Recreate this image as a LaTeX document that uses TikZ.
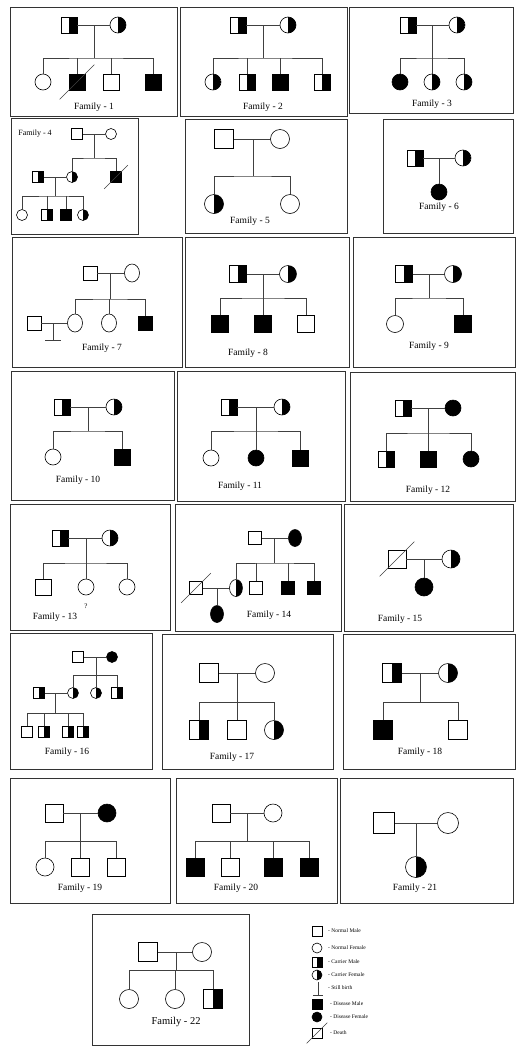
\documentclass[tikz,border=0pt]{standalone}
\usepackage{fontspec}
\setmainfont{Liberation Serif}
\usetikzlibrary{calc,shapes.geometric}

\tikzset{
  male/.style={draw, rectangle, inner sep=0pt, line width=0.6pt},
  female/.style={draw, circle, inner sep=0pt, line width=0.6pt},
  oval/.style={draw, ellipse, inner sep=0pt, line width=0.6pt},
  dis/.style={fill=black},
  halfblack/.style={path picture={\fill[black] (path picture bounding box.north) rectangle (path picture bounding box.south east);}},
  carm/.style={male, halfblack},
  carf/.style={female, halfblack},
  link/.style={draw=black!75, line width=0.6pt},
  fambox/.style={draw=black!80, line width=1pt},
  famlabel/.style={font=\fontsize{9.5}{11}\selectfont, minimum size=0pt, inner sep=0pt},
  keytext/.style={anchor=west, font=\fontsize{5.5}{6}\selectfont, minimum size=0pt, inner sep=0pt},
}
\newcommand{\deadmark}[2]{\draw[link] ($(#1.south west)+(-#2,#2)$) -- ($(#1.north east)+(#2,-#2)$);}

\begin{document}
\begin{tikzpicture}[x=1pt,y=-1pt]
\useasboundingbox (0,0) rectangle (523,1058);

% frames
\draw[fambox] (10,7) rectangle (177,116);
\draw[fambox] (180,7) rectangle (347,116);
\draw[fambox] (349,7) rectangle (513,113);
\draw[fambox] (11,118) rectangle (138,234);
\draw[fambox] (185,119) rectangle (347,233);
\draw[fambox] (383,119) rectangle (513,233);
\draw[fambox] (12,237) rectangle (182,367);
\draw[fambox] (185,237) rectangle (349,367);
\draw[fambox] (353,237) rectangle (515,367);
\draw[fambox] (11,371) rectangle (174,500);
\draw[fambox] (177,371) rectangle (345,501);
\draw[fambox] (350,372) rectangle (515,501);
\draw[fambox] (10,504) rectangle (170,630);
\draw[fambox] (175,504) rectangle (341,631);
\draw[fambox] (344,504) rectangle (513,631);
\draw[fambox] (10,633) rectangle (152,769);
\draw[fambox] (162,634) rectangle (333,769);
\draw[fambox] (343,634) rectangle (515,769);
\draw[fambox] (10,778) rectangle (170,903);
\draw[fambox] (176,778) rectangle (337,903);
\draw[fambox] (340,778) rectangle (513,903);
\draw[fambox] (92,914) rectangle (249,1045);

% family 1
\begin{scope}[every node/.append style={minimum size=16pt}]
  \node[carm] (p1) at (69,25) {};
  \node[carf] (q1) at (118,25) {};
  \coordinate (j1) at (94,25);
  \coordinate (s1) at (94,58);
  \node[female] (c1a) at (43,82) {};
  \node[male,dis] (c1b) at (77,82) {};
  \node[male] (c1c) at (111,82) {};
  \node[male,dis] (c1d) at (153,82) {};
  \draw[link] (p1) -- (q1);
  \draw[link] (j1) -- (s1);
  \draw[link] (c1a) |- (s1) -| (c1d);
  \draw[link] (c1b) -- (c1b |- s1);
  \draw[link] (c1c) -- (c1c |- s1);
  \deadmark{c1b}{9}
  \node[famlabel] (l1) at (94,107) {Family - 1};
\end{scope}

% family 2
\begin{scope}[every node/.append style={minimum size=16pt}]
  \node[carm] (p2) at (238,25) {};
  \node[carf] (q2) at (288,25) {};
  \coordinate (j2) at (263,25);
  \coordinate (s2) at (263,58);
  \node[carf] (c2a) at (213,82) {};
  \node[carm] (c2b) at (247,82) {};
  \node[male,dis] (c2c) at (280,82) {};
  \node[carm] (c2d) at (322,82) {};
  \draw[link] (p2) -- (q2);
  \draw[link] (j2) -- (s2);
  \draw[link] (c2a) |- (s2) -| (c2d);
  \draw[link] (c2b) -- (c2b |- s2);
  \draw[link] (c2c) -- (c2c |- s2);
  \node[famlabel] (l2) at (263,107) {Family - 2};
\end{scope}

% family 3
\begin{scope}[every node/.append style={minimum size=16pt}]
  \node[carm] (p3) at (408,25) {};
  \node[carf] (q3) at (457,25) {};
  \coordinate (j3) at (432,25);
  \coordinate (s3) at (432,58);
  \node[female,dis] (c3a) at (400,82) {};
  \node[carf] (c3b) at (432,82) {};
  \node[carf] (c3c) at (464,82) {};
  \draw[link] (p3) -- (q3);
  \draw[link] (j3) -- (s3);
  \draw[link] (c3a) |- (s3) -| (c3c);
  \draw[link] (c3b) -- (c3b |- s3);
  \node[famlabel] (l3) at (432,104) {Family - 3};
\end{scope}

% family 4
\begin{scope}[every node/.append style={minimum size=11pt}]
  \node[famlabel, font=\fontsize{8}{9}\selectfont] (l4) at (35,134) {Family - 4};
  \node[male] (p4) at (77,134) {};
  \node[female] (q4) at (111,134) {};
  \coordinate (j4) at (94,134);
  \coordinate (s4) at (94,158);
  \node[carf] (c4a) at (72,177) {};
  \node[male,dis] (c4b) at (116,177) {};
  \node[carm] (r4) at (38,177) {};
  \coordinate (j4b) at (55,177);
  \coordinate (s4b) at (55,196);
  \node[female] (g4a) at (22,215) {};
  \node[carm] (g4b) at (47,215) {};
  \node[male,dis] (g4c) at (66,215) {};
  \node[carf] (g4d) at (83,215) {};
  \draw[link] (p4) -- (q4);
  \draw[link] (j4) -- (s4);
  \draw[link] (c4a) |- (s4) -| (c4b);
  \deadmark{c4b}{6}
  \draw[link] (r4) -- (c4a);
  \draw[link] (j4b) -- (s4b);
  \draw[link] (g4a) |- (s4b) -| (g4d);
  \draw[link] (g4b) -- (g4b |- s4b);
  \draw[link] (g4c) -- (g4c |- s4b);
\end{scope}

% family 5
\begin{scope}[every node/.append style={minimum size=19pt}]
  \node[male] (p5) at (224,139) {};
  \node[female] (q5) at (280,139) {};
  \coordinate (j5) at (253,139);
  \coordinate (s5) at (253,176);
  \node[carf] (c5a) at (214,204) {};
  \node[female] (c5b) at (290,204) {};
  \draw[link] (p5) -- (q5);
  \draw[link] (j5) -- (s5);
  \draw[link] (c5a) |- (s5) -| (c5b);
  \node[famlabel] (l5) at (250,221) {Family - 5};
\end{scope}

% family 6
\begin{scope}[every node/.append style={minimum size=16pt}]
  \node[carm] (p6) at (415,158) {};
  \node[carf] (q6) at (463,158) {};
  \coordinate (j6) at (439,158);
  \node[female,dis] (c6a) at (439,192) {};
  \draw[link] (p6) -- (q6);
  \draw[link] (j6) -- (c6a);
  \node[famlabel] (l6) at (439,207) {Family - 6};
\end{scope}

% family 7
\begin{scope}[every node/.append style={minimum size=14pt}]
  \node[male] (p7) at (90,273) {};
  \node[oval, minimum width=15pt, minimum height=18pt] (q7) at (132,273) {};
  \coordinate (j7) at (110,273);
  \coordinate (s7) at (110,299);
  \node[oval, minimum width=15pt, minimum height=18pt] (c7a) at (75,323) {};
  \node[oval, minimum width=15pt, minimum height=18pt] (c7b) at (109,323) {};
  \node[male,dis] (c7c) at (145,323) {};
  \node[male] (r7) at (34,323) {};
  \coordinate (j7b) at (53,323);
  \coordinate (sb7) at (53,340);
  \draw[link] (p7) -- (q7);
  \draw[link] (j7) -- (s7);
  \draw[link] (c7a) |- (s7) -| (c7c);
  \draw[link] (c7b) -- (c7b |- s7);
  \draw[link] (r7) -- (c7a);
  \draw[link] (j7b) -- (sb7);
  \draw[link] ($(sb7)+(-8,0)$) -- ($(sb7)+(8,0)$);
  \node[famlabel] (l7) at (102,348) {Family - 7};
\end{scope}

% family 8
\begin{scope}[every node/.append style={minimum size=17pt}]
  \node[carm] (p8) at (238,274) {};
  \node[carf] (q8) at (288,274) {};
  \coordinate (j8) at (263,274);
  \coordinate (s8) at (263,298);
  \node[male,dis] (c8a) at (220,324) {};
  \node[male,dis] (c8b) at (263,324) {};
  \node[male] (c8c) at (306,324) {};
  \draw[link] (p8) -- (q8);
  \draw[link] (j8) -- (s8);
  \draw[link] (c8a) |- (s8) -| (c8c);
  \draw[link] (c8b) -- (c8b |- s8);
  \node[famlabel] (l8) at (248,353) {Family - 8};
\end{scope}

% family 9
\begin{scope}[every node/.append style={minimum size=17pt}]
  \node[carm] (p9) at (404,274) {};
  \node[carf] (q9) at (453,274) {};
  \coordinate (j9) at (429,274);
  \coordinate (s9) at (429,298);
  \node[female] (c9a) at (395,324) {};
  \node[male,dis] (c9b) at (463,324) {};
  \draw[link] (p9) -- (q9);
  \draw[link] (j9) -- (s9);
  \draw[link] (c9a) |- (s9) -| (c9b);
  \node[famlabel] (l9) at (429,346) {Family - 9};
\end{scope}

% family 10
\begin{scope}[every node/.append style={minimum size=16pt}]
  \node[carm] (p10) at (62,407) {};
  \node[carf] (q10) at (114,407) {};
  \coordinate (j10) at (88,407);
  \coordinate (s10) at (88,431);
  \node[female] (c10a) at (53,457) {};
  \node[male,dis] (c10b) at (122,457) {};
  \draw[link] (p10) -- (q10);
  \draw[link] (j10) -- (s10);
  \draw[link] (c10a) |- (s10) -| (c10b);
  \node[famlabel] (l10) at (78,480) {Family - 10};
\end{scope}

% family 11
\begin{scope}[every node/.append style={minimum size=16pt}]
  \node[carm] (p11) at (229,407) {};
  \node[carf] (q11) at (282,407) {};
  \coordinate (j11) at (256,407);
  \coordinate (s11) at (256,431);
  \node[female] (c11a) at (211,458) {};
  \node[female,dis] (c11b) at (256,458) {};
  \node[male,dis] (c11c) at (300,458) {};
  \draw[link] (p11) -- (q11);
  \draw[link] (j11) -- (s11);
  \draw[link] (c11a) |- (s11) -| (c11c);
  \draw[link] (c11b) -- (c11b |- s11);
  \node[famlabel] (l11) at (240,486) {Family - 11};
\end{scope}

% family 12
\begin{scope}[every node/.append style={minimum size=16pt}]
  \node[carm] (p12) at (403,408) {};
  \node[female,dis] (q12) at (453,408) {};
  \coordinate (j12) at (428,408);
  \coordinate (s12) at (428,433);
  \node[carm] (c12a) at (386,459) {};
  \node[male,dis] (c12b) at (428,459) {};
  \node[female,dis] (c12c) at (471,459) {};
  \draw[link] (p12) -- (q12);
  \draw[link] (j12) -- (s12);
  \draw[link] (c12a) |- (s12) -| (c12c);
  \draw[link] (c12b) -- (c12b |- s12);
  \node[famlabel] (l12) at (428,490) {Family - 12};
\end{scope}

% family 13
\begin{scope}[every node/.append style={minimum size=16pt}]
  \node[carm] (p13) at (60,538) {};
  \node[carf] (q13) at (110,538) {};
  \coordinate (j13) at (86,538);
  \coordinate (s13) at (86,563);
  \node[male] (c13a) at (43,587) {};
  \node[female] (c13b) at (86,587) {};
  \node[female] (c13c) at (127,587) {};
  \draw[link] (p13) -- (q13);
  \draw[link] (j13) -- (s13);
  \draw[link] (c13a) |- (s13) -| (c13c);
  \draw[link] (c13b) -- (c13b |- s13);
  \node[famlabel, font=\fontsize{7}{8}\selectfont] (x13) at (86,606) {?};
  \node[famlabel] (l13) at (55,617) {Family - 13};
\end{scope}

% family 14
\begin{scope}[every node/.append style={minimum size=13pt}]
  \node[male] (p14) at (255,538) {};
  \node[oval, dis, minimum width=13pt, minimum height=17pt] (q14) at (295,538) {};
  \coordinate (j14) at (274,538);
  \coordinate (s14) at (274,563);
  \node[oval, halfblack, minimum width=13pt, minimum height=17pt] (c14a) at (236,588) {};
  \node[male] (c14b) at (256,588) {};
  \node[male,dis] (c14c) at (288,588) {};
  \node[male,dis] (c14d) at (314,588) {};
  \node[male] (r14) at (196,588) {};
  \coordinate (j14b) at (217,588);
  \node[oval, dis, minimum width=13pt, minimum height=17pt] (c14e) at (217,614) {};
  \draw[link] (p14) -- (q14);
  \draw[link] (j14) -- (s14);
  \draw[link] (c14a) |- (s14) -| (c14d);
  \draw[link] (c14b) -- (c14b |- s14);
  \draw[link] (c14c) -- (c14c |- s14);
  \draw[link] (r14) -- (c14a);
  \draw[link] (j14b) -- (c14e);
  \deadmark{r14}{8}
  \node[famlabel] (l14) at (269,615) {Family - 14};
\end{scope}

% family 15
\begin{scope}[every node/.append style={minimum size=18pt}]
  \node[male] (p15) at (397,559) {};
  \node[carf] (q15) at (451,559) {};
  \coordinate (j15) at (424,559);
  \node[female,dis] (c15a) at (424,587) {};
  \draw[link] (p15) -- (q15);
  \draw[link] (j15) -- (c15a);
  \deadmark{p15}{8}
  \node[famlabel] (l15) at (400,619) {Family - 15};
\end{scope}

% family 16
\begin{scope}[every node/.append style={minimum size=11pt}]
  \node[male] (p16) at (78,657) {};
  \node[female,dis] (q16) at (112,657) {};
  \coordinate (j16) at (96,657);
  \coordinate (s16) at (96,675);
  \node[carf] (c16a) at (73,693) {};
  \node[carf] (c16b) at (96,693) {};
  \node[carm] (c16c) at (117,693) {};
  \node[carm] (r16) at (39,693) {};
  \coordinate (j16b) at (55,693);
  \coordinate (s16b) at (55,713);
  \node[male] (g16a) at (27,732) {};
  \node[carm] (g16b) at (44,732) {};
  \node[carm] (g16c) at (68,732) {};
  \node[carm] (g16d) at (83,732) {};
  \draw[link] (p16) -- (q16);
  \draw[link] (j16) -- (s16);
  \draw[link] (c16a) |- (s16) -| (c16c);
  \draw[link] (c16b) -- (c16b |- s16);
  \draw[link] (r16) -- (c16a);
  \draw[link] (j16b) -- (s16b);
  \draw[link] (g16a) |- (s16b) -| (g16d);
  \draw[link] (g16b) -- (g16b |- s16b);
  \draw[link] (g16c) -- (g16c |- s16b);
  \node[famlabel] (l16) at (67,752) {Family - 16};
\end{scope}

% family 17
\begin{scope}[every node/.append style={minimum size=19pt}]
  \node[male] (p17) at (209,673) {};
  \node[female] (q17) at (265,673) {};
  \coordinate (j17) at (237,673);
  \coordinate (s17) at (237,702);
  \node[carm] (c17a) at (199,730) {};
  \node[male] (c17b) at (237,730) {};
  \node[carf] (c17c) at (274,730) {};
  \draw[link] (p17) -- (q17);
  \draw[link] (j17) -- (s17);
  \draw[link] (c17a) |- (s17) -| (c17c);
  \draw[link] (c17b) -- (c17b |- s17);
  \node[famlabel] (l17) at (232,757) {Family - 17};
\end{scope}

% family 18
\begin{scope}[every node/.append style={minimum size=19pt}]
  \node[carm] (p18) at (392,673) {};
  \node[carf] (q18) at (448,673) {};
  \coordinate (j18) at (420,673);
  \coordinate (s18) at (420,702);
  \node[male,dis] (c18a) at (383,730) {};
  \node[male] (c18b) at (458,730) {};
  \draw[link] (p18) -- (q18);
  \draw[link] (j18) -- (s18);
  \draw[link] (c18a) |- (s18) -| (c18b);
  \node[famlabel] (l18) at (420,752) {Family - 18};
\end{scope}

% family 19
\begin{scope}[every node/.append style={minimum size=18pt}]
  \node[male] (p19) at (54,813) {};
  \node[female,dis] (q19) at (107,813) {};
  \coordinate (j19) at (80,813);
  \coordinate (s19) at (80,841);
  \node[female] (c19a) at (45,867) {};
  \node[male] (c19b) at (80,867) {};
  \node[male] (c19c) at (116,867) {};
  \draw[link] (p19) -- (q19);
  \draw[link] (j19) -- (s19);
  \draw[link] (c19a) |- (s19) -| (c19c);
  \draw[link] (c19b) -- (c19b |- s19);
  \node[famlabel] (l19) at (80,888) {Family - 19};
\end{scope}

% family 20
\begin{scope}[every node/.append style={minimum size=18pt}]
  \node[male] (p20) at (221,813) {};
  \node[female] (q20) at (273,813) {};
  \coordinate (j20) at (247,813);
  \coordinate (s20) at (247,841);
  \node[male,dis] (c20a) at (195,867) {};
  \node[male] (c20b) at (230,867) {};
  \node[male,dis] (c20c) at (273,867) {};
  \node[male,dis] (c20d) at (309,867) {};
  \draw[link] (p20) -- (q20);
  \draw[link] (j20) -- (s20);
  \draw[link] (c20a) |- (s20) -| (c20d);
  \draw[link] (c20b) -- (c20b |- s20);
  \draw[link] (c20c) -- (c20c |- s20);
  \node[famlabel] (l20) at (236,888) {Family - 20};
\end{scope}

% family 21
\begin{scope}[every node/.append style={minimum size=21pt}]
  \node[male] (p21) at (384,823) {};
  \node[female] (q21) at (448,823) {};
  \coordinate (j21) at (416,823);
  \node[carf] (c21a) at (416,867) {};
  \draw[link] (p21) -- (q21);
  \draw[link] (j21) -- (c21a);
  \node[famlabel] (l21) at (415,888) {Family - 21};
\end{scope}

% family 22
\begin{scope}[every node/.append style={minimum size=19pt}]
  \node[male] (p22) at (148,952) {};
  \node[female] (q22) at (202,952) {};
  \coordinate (j22) at (176,952);
  \coordinate (s22) at (176,970);
  \node[female] (c22a) at (129,999) {};
  \node[female] (c22b) at (175,999) {};
  \node[carm] (c22c) at (213,999) {};
  \draw[link] (p22) -- (q22);
  \draw[link] (j22) -- (s22);
  \draw[link] (c22a) |- (s22) -| (c22c);
  \draw[link] (c22b) -- (c22b |- s22);
  \node[famlabel, font=\fontsize{10.5}{12}\selectfont] (l22) at (176,1022) {Family - 22};
\end{scope}

% key
\begin{scope}[every node/.append style={minimum size=10pt}]
  \node[male] (k1) at (317,931) {};
  \node[keytext] (t1) at (328,931) {- Normal Male};
  \node[female] (k2) at (317,948) {};
  \node[keytext] (t2) at (328,948) {- Normal Female};
  \node[carm] (k3) at (317,962) {};
  \node[keytext] (t3) at (328,962) {- Carrier Male};
  \node[carf] (k4) at (317,975) {};
  \node[keytext] (t4) at (328,975) {- Carrier Female};
  \coordinate (k5) at (318,982);
  \coordinate (k5b) at (318,995);
  \draw[link] (k5) -- (k5b);
  \draw[link] ($(k5b)+(-5,0)$) -- ($(k5b)+(5,0)$);
  \node[keytext] (t5) at (328,988) {- Still birth};
  \node[male,dis] (k6) at (317,1004) {};
  \node[keytext] (t6) at (330,1004) {- Disease Male};
  \node[female,dis] (k7) at (317,1017) {};
  \node[keytext] (t7) at (330,1017) {- Disease Female};
  \node[male] (k8) at (317,1033) {};
  \deadmark{k8}{5}
  \node[keytext] (t8) at (330,1033) {- Death};
\end{scope}
\end{tikzpicture}
\end{document}
